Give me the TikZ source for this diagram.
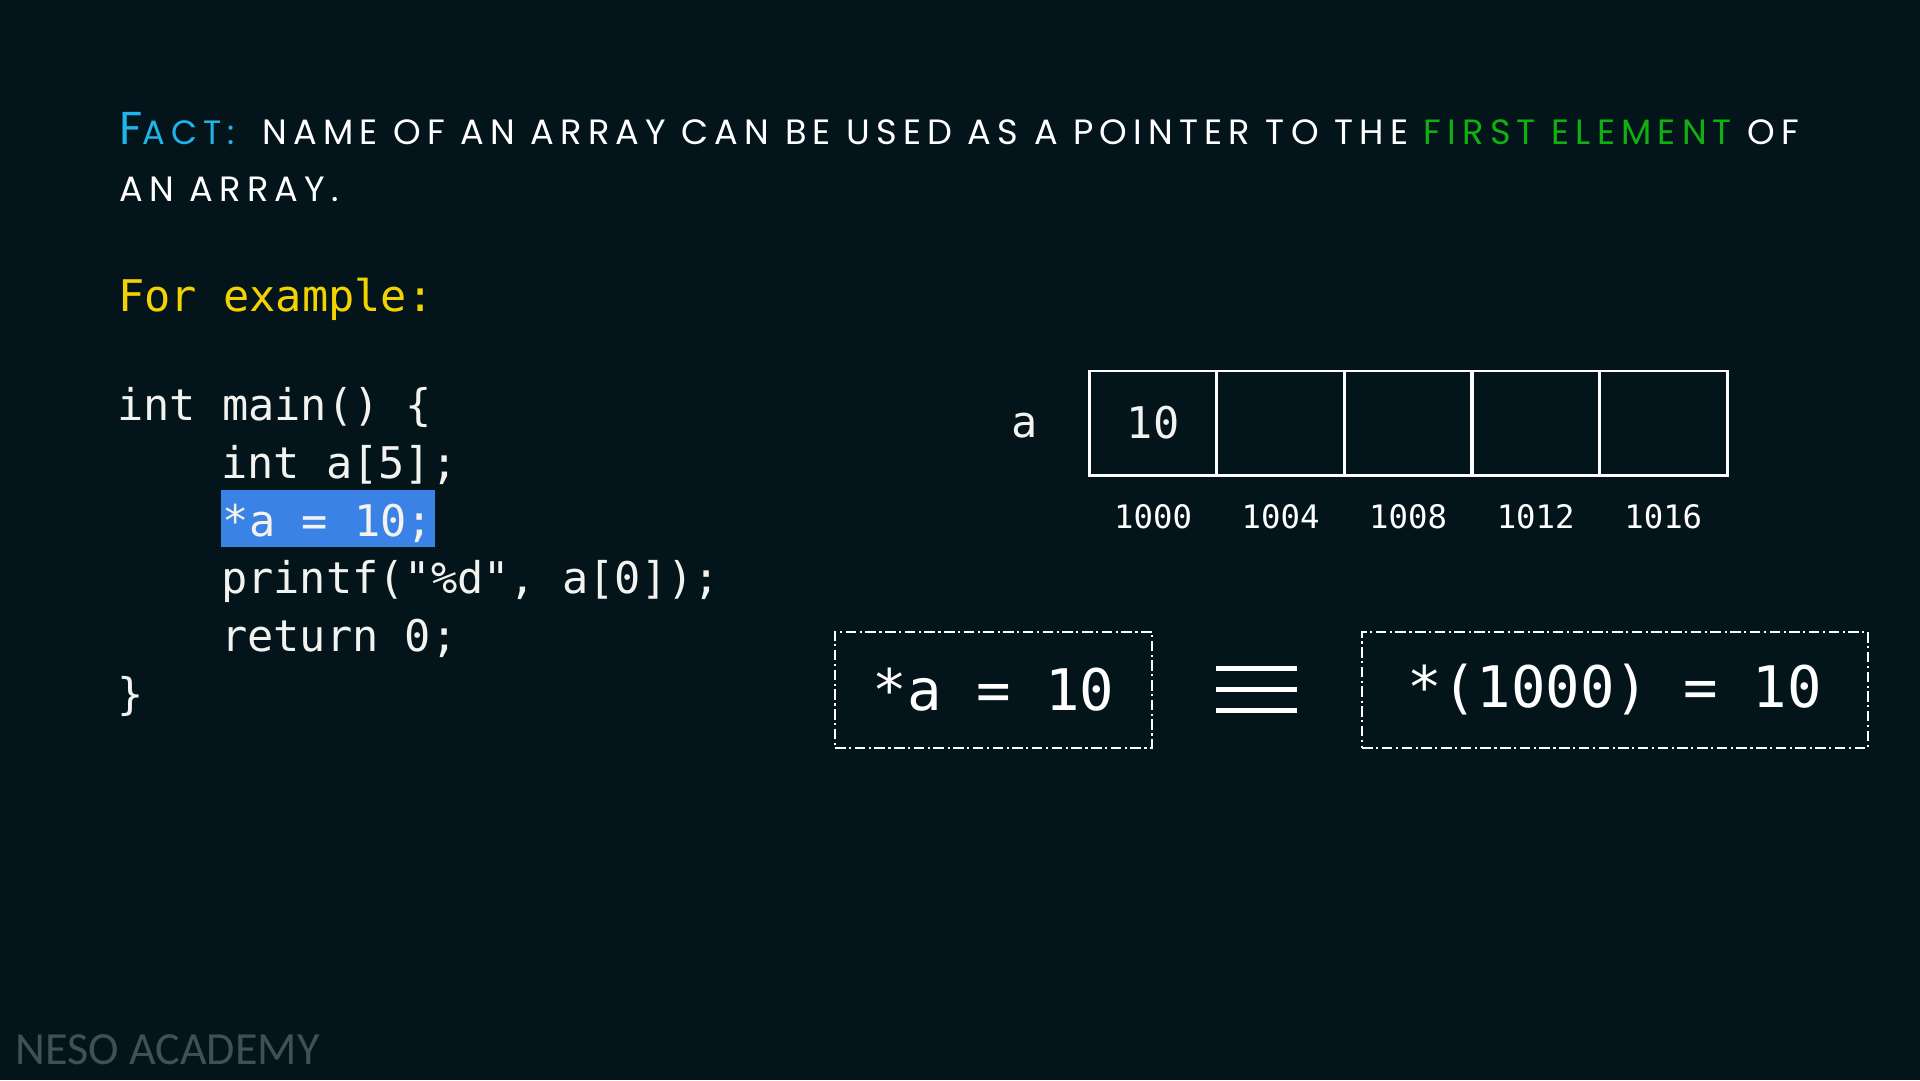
\documentclass[tikz,border=0pt]{standalone}
\usepackage{fontspec}
\setmonofont{DejaVu Sans Mono}
\newfontfamily\factfont[LetterSpace=17.6]{Poppins}
\newfontfamily\logofont{Carlito}

\definecolor{bg}{HTML}{03151A}
\definecolor{factblue}{HTML}{1FB5E8}
\definecolor{elgreen}{HTML}{10B010}
\definecolor{exyellow}{HTML}{F2D200}
\definecolor{hilite}{HTML}{3B82E6}
\definecolor{codewhite}{HTML}{F2F2EE}
\definecolor{logogray}{HTML}{3E5153}

\tikzset{
  code/.style={anchor=base west, inner sep=0pt, text=codewhite,
    font=\ttfamily\fontsize{12.4}{14}\selectfont},
  cell/.style={draw=white, line width=0.85pt, minimum width=1.276cm,
    minimum height=1.041cm, inner sep=0pt},
  addr/.style={anchor=base, inner sep=0pt, text=white,
    font=\ttfamily\fontsize{9.2}{11}\selectfont},
  eqbox/.style={draw=white, line width=0.6pt,
    dash pattern=on 3pt off 1pt on 0.6pt off 1pt, minimum height=1.16cm,
    inner sep=0pt, text=white, font=\ttfamily\fontsize{16.3}{18}\selectfont}
}

\begin{document}
\begin{tikzpicture}[x=0.012245cm, y=-0.012245cm]
      \fill[bg] (0,0) rectangle (1568,882);
      \useasboundingbox (0,0) rectangle (1568,882);

      % the fact
      \node[anchor=base west, inner sep=0pt, text=factblue, font=\factfont] (fact) at (97,118.4)
        {\fontsize{13.1}{14}\selectfont F\fontsize{9.6}{10}\selectfont ACT:};
      \node[anchor=base west, inner sep=0pt, text=white, font=\factfont\fontsize{10}{11}\selectfont] (fact1) at (213.7,118.4)
        {NAME OF AN ARRAY CAN BE USED AS A POINTER TO THE \textcolor{elgreen}{FIRST ELEMENT} OF};
      \node[anchor=base west, inner sep=0pt, text=white, font=\factfont\fontsize{10}{11}\selectfont] (fact2) at (97,164.7)
        {AN ARRAY.};

      \node[code, text=exyellow] (ex) at (96,254.5) {For example:};

      % the program
      \node[code] (l1) at (95,343) {int main() \{};
      \node[code] (l2) at (180,390.6) {int a[5];};
      \node[code, fill=hilite, inner xsep=0.5pt, text height=13.2pt, text depth=3pt] (l3) at (180,438.3) {*a = 10;};
      \node[code] (l4) at (180,485) {printf("\%d", a[0]);};
      \node[code] (l5) at (180,532.3) {return 0;};
      \node[code] (l6) at (95,579.6) {\}};

      % the array a
      \foreach \x in {0,...,4}
      \node[cell] (c\x) at (941.7+104.15*\x,345.5) {};
      \node[code, anchor=center] (v0) at (c0) {10};
      \node[code, anchor=base] (name) at (837,357.2) {a};
      \foreach \x/\ad in {0/1000,1/1004,2/1008,3/1012,4/1016}
      \node[addr] (ad\x) at (941.7+104.15*\x,431.5) {\ad};

      % *a is the same as *(1000)
      \node[eqbox, minimum width=3.167cm] (lhs) at (811.3,563.3) {*a = 10};
      \node[eqbox, minimum width=5.051cm] (rhs) at (1318.8,563.3) {*(1000) = 10};
      \foreach \y in {545.8,563,580.4}
      \draw[white, line width=1.3pt] (993.4,\y) -- (1059,\y);

      \node[anchor=base west, inner sep=0pt, text=logogray, font=\logofont\fontsize{13.1}{15}\selectfont] (logo) at (12,869.7)
        {NESO ACADEMY};
\end{tikzpicture}
\end{document}
